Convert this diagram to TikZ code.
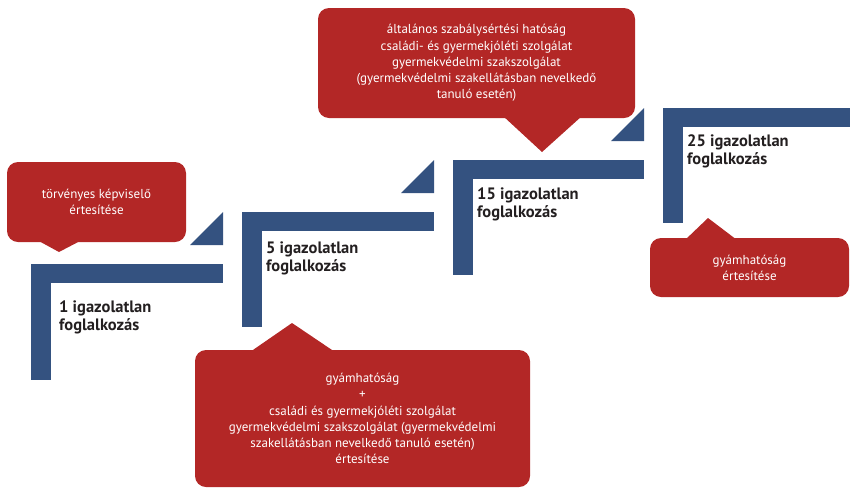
\documentclass[tikz,border=0pt]{standalone}
\usepackage{fontspec}
\setmainfont{PT Sans}
\usepackage{tikz}
\definecolor{stepblue}{RGB}{52,82,128}
\definecolor{bubblered}{RGB}{179,39,38}
\definecolor{labeldark}{RGB}{35,31,32}

\begin{document}
\begin{tikzpicture}[x=1pt,y=-1pt,
        stepbar/.style={fill=stepblue},
        bubble/.style={fill=bubblered,rounded corners=11pt,inner sep=0pt,text=white,
          align=center,font=\fontsize{13}{16.2}\selectfont},
        pointer/.style={fill=bubblered},
        steplabel/.style={anchor=north west,inner sep=0pt,align=left,text=labeldark,
          font=\fontsize{16.5}{18}\bfseries\selectfont}]
        \useasboundingbox (0,0) rectangle (850,488);
        %Step 1
        \fill[stepbar] (31,264) rectangle (51,380);
        \fill[stepbar] (31,264) rectangle (223,283);
        \fill[stepbar] (190,245) -- (223,212) -- (223,245) -- cycle;
        %Step 2
        \fill[stepbar] (242,212) rectangle (262,327);
        \fill[stepbar] (242,212) rectangle (434,231);
        \fill[stepbar] (401,193) -- (434,160) -- (434,193) -- cycle;
        %Step 3
        \fill[stepbar] (453,160) rectangle (473,275);
        \fill[stepbar] (453,160) rectangle (644,179);
        \fill[stepbar] (611,141) -- (644,108) -- (644,141) -- cycle;
        %Step 4
        \fill[stepbar] (663,108) rectangle (683,223);
        \fill[stepbar] (663,108) rectangle (850,127);
        % Step labels
        \node[steplabel] (one) at (59,301) {1 igazolatlan\\foglalkozás};
        \node[steplabel] (five) at (266,242) {5 igazolatlan\\foglalkozás};
        \node[steplabel] (fifteen) at (477,188) {15 igazolatlan\\foglalkozás};
        \node[steplabel] (twentyfive) at (687,135) {25 igazolatlan\\foglalkozás};
        % Bubbles
        \fill[pointer] (37,240) -- (59,252) -- (82,240) -- cycle;
        \node[bubble,minimum width=179pt,minimum height=80pt] (parent) at (96.5,202)
          {törvényes képviselő\\értesítése};
        \fill[pointer] (503,116) -- (542,152) -- (582,116) -- cycle;
        \node[bubble,minimum width=317pt,minimum height=110pt] (authority) at (476.5,63)
          {általános szabálysértési hatóság\\családi- és gyermekjóléti szolgálat\\
           gyermekvédelmi szakszolgálat\\(gyermekvédelmi szakellátásban nevelkedő\\tanuló esetén)};
        \fill[pointer] (250,352) -- (292,323) -- (335,352) -- cycle;
        \node[bubble,minimum width=335pt,minimum height=137pt] (guardian) at (362.5,418.5)
          {gyámhatóság\\+\\családi és gyermekjóléti szolgálat\\gyermekvédelmi szakszolgálat (gyermekvédelmi\\
           szakellátásban nevelkedő tanuló esetén)\\értesítése};
        \fill[pointer] (685,240) -- (708,218) -- (737,240) -- cycle;
        \node[bubble,minimum width=199pt,minimum height=59pt] (custody) at (749.5,267.5)
          {gyámhatóság\\értesítése};
\end{tikzpicture}
\end{document}
